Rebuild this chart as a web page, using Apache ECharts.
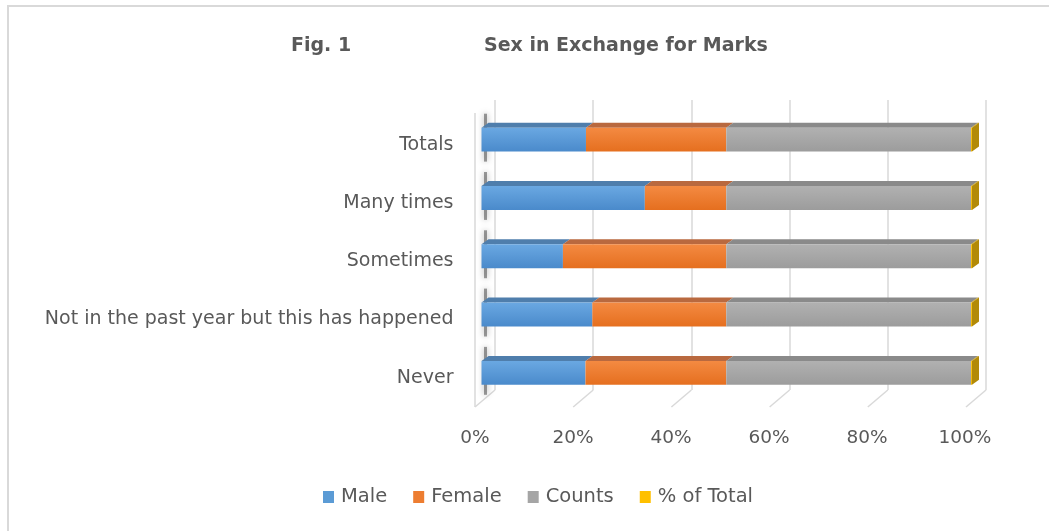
<!DOCTYPE html>
<html>
<head>
<meta charset="utf-8">
<script src="https://cdn.jsdelivr.net/npm/echarts@6/dist/echarts.min.js"></script>
<style>
html,body{margin:0;padding:0;background:#fff;}
#chart{width:1049px;height:531px;}
</style>
</head>
<body>
<div id="chart"></div>
<script>
// ---- data (percent of each row) ----
var categories = ['Never', 'Not in the past year but this has happened', 'Sometimes', 'Many times', 'Totals'];
var male   = [21.2, 22.6, 16.6, 33.3, 21.3];
var female = [28.7, 27.3, 33.3, 16.6, 28.6];
var counts = [49.9, 49.9, 49.9, 49.9, 49.9];
var pctTotal = [0.2, 0.2, 0.2, 0.2, 0.2];
var xTicks = [0, 20, 40, 60, 80, 100];
var seriesNames = ['Male', 'Female', 'Counts', '% of Total'];
var seriesData = [male, female, counts, pctTotal];

// ---- styles ----
var FONT = 'DejaVu Sans';
var TXT = '#595959';
var faceColors = [
  {front: ['#6aa8e2', '#4a8acb'], top: '#4f7eac', legend: '#5b9bd5'},
  {front: ['#f48a42', '#e56f1f'], top: '#b9693f', legend: '#ed7d31'},
  {front: ['#b1b1b1', '#9c9c9c'], top: '#8a8a8a', legend: '#a5a5a5'},
  {front: ['#ffc81a', '#f0b400'], top: '#c99a00', legend: '#ffc000'}
];
var sideColor = '#b28a08';
var DX = 7, DY = 5;

var chart = echarts.init(document.getElementById('chart'), null, {renderer: 'canvas'});

function makeBarSeries(si) {
  return {
    type: 'custom',
    name: seriesNames[si],
    xAxisIndex: 0, yAxisIndex: 0,
    clip: false,
    itemStyle: {color: faceColors[si].legend},
    encode: {x: 0, y: 1},
    data: seriesData[si].map(function (v, i) { return [v, i]; }),
    renderItem: function (params, api) {
      var cat = api.value(1);
      var val = api.value(0);
      var start = 0;
      for (var k = 0; k < si; k++) start += seriesData[k][cat];
      var end = start + val;
      var p0 = api.coord([start, cat]);
      var p1 = api.coord([end, cat]);
      var h = api.size([0, 1])[1] * 0.41;
      var yTop = p0[1] - h / 2, yBot = p0[1] + h / 2;
      var x0 = p0[0], x1 = p1[0];
      var fc = faceColors[si];
      var children = [];
      if (si === 0) {
        // left wall shadow smudge
        children.push({
          type: 'line',
          shape: {x1: x0 + 4, y1: yTop - 14, x2: x0 + 4, y2: yBot + 10},
          style: {stroke: 'rgba(60,60,60,0.5)', lineWidth: 3, shadowBlur: 6, shadowColor: 'rgba(0,0,0,0.7)'},
          z2: 0
        });
      }
      children.push({
        type: 'rect',
        shape: {x: x0, y: yTop, width: Math.max(x1 - x0, 0), height: h},
        style: {fill: new echarts.graphic.LinearGradient(0, 0, 0, 1, [
          {offset: 0, color: fc.front[0]}, {offset: 1, color: fc.front[1]}
        ])},
        z2: 2
      });
      children.push({
        type: 'polygon',
        shape: {points: [[x0, yTop], [x1, yTop], [x1 + DX, yTop - DY], [x0 + DX, yTop - DY]]},
        style: {fill: fc.top},
        z2: 1
      });
      if (si === seriesData.length - 1) {
        children.push({
          type: 'polygon',
          shape: {points: [[x1, yTop], [x1 + DX, yTop - DY], [x1 + DX, yBot - DY], [x1, yBot]]},
          style: {fill: sideColor},
          z2: 1
        });
      }
      return {type: 'group', children: children};
    }
  };
}

var option = {
  backgroundColor: '#ffffff',
  animation: false,
  title: [
    {text: 'Fig. 1', left: 291, top: 37, padding: 0,
     textStyle: {fontFamily: FONT, fontWeight: 'bold', fontSize: 19, color: TXT}},
    {text: 'Sex in Exchange for Marks', left: 484, top: 37, padding: 0,
     textStyle: {fontFamily: FONT, fontWeight: 'bold', fontSize: 19, color: TXT}}
  ],
  graphic: [
    {type: 'rect', shape: {x: 8, y: 6, width: 1200, height: 700},
     style: {fill: 'none', stroke: '#d9d9d9', lineWidth: 2}, silent: true, z: -10}
  ],
  legend: {
    data: seriesNames,
    left: 318, top: 482,
    icon: 'rect', itemWidth: 11, itemHeight: 12, itemGap: 26,
    textStyle: {fontFamily: FONT, fontSize: 19.5, color: TXT, padding: [0, 0, 0, 2]}
  },
  grid: [
    {left: 481.5, width: 490.5, top: 110.5, height: 291.5},
    {left: 495, width: 491, top: 100, height: 290},
    {left: 475, width: 490, top: 100, height: 307},
    {left: 481.5, width: 490.5, top: 115.5, height: 291.5}
  ],
  xAxis: [
    {gridIndex: 0, type: 'value', min: 0, max: 100, interval: 20, show: false},
    {gridIndex: 1, type: 'value', min: 0, max: 100, interval: 20,
     axisLine: {show: false}, axisTick: {show: false}, axisLabel: {show: false},
     splitLine: {show: true, lineStyle: {color: '#d9d9d9', width: 1.5}}},
    {gridIndex: 2, type: 'value', min: 0, max: 100, interval: 20,
     axisLine: {show: false}, axisTick: {show: false}, splitLine: {show: false},
     axisLabel: {formatter: '{value}%', margin: 22, fontFamily: FONT, fontSize: 18.5, color: TXT}},
    {gridIndex: 3, type: 'value', min: 0, max: 100, interval: 20, show: false}
  ],
  yAxis: [
    {gridIndex: 0, type: 'category', data: categories, show: false},
    {gridIndex: 1, type: 'value', min: 0, max: 1, show: false},
    {gridIndex: 2, type: 'value', min: 0, max: 1, show: false},
    {gridIndex: 3, type: 'category', data: categories,
     axisLine: {show: false}, axisTick: {show: false}, splitLine: {show: false},
     axisLabel: {margin: 28, fontFamily: FONT, fontSize: 19, color: TXT}}
  ],
  series: [
    {
      type: 'custom',
      name: 'floor',
      xAxisIndex: 1, yAxisIndex: 1,
      clip: false, silent: true,
      encode: {x: 0},
      data: xTicks.map(function (v) { return [v]; }),
      renderItem: function (params, api) {
        var v = api.value(0);
        var p = api.coord([v, 0]);
        var children = [{
          type: 'line',
          shape: {x1: p[0], y1: p[1], x2: p[0] - 20, y2: p[1] + 17},
          style: {stroke: '#d9d9d9', lineWidth: 1.5}
        }];
        if (v === 0) {
          var top = api.coord([0, 1]);
          children.push({
            type: 'line',
            shape: {x1: p[0] - 20, y1: top[1] + 13, x2: p[0] - 20, y2: p[1] + 17},
            style: {stroke: '#d9d9d9', lineWidth: 1.5}
          });
        }
        return {type: 'group', children: children};
      },
      z: 1
    },
    makeBarSeries(0),
    makeBarSeries(1),
    makeBarSeries(2),
    makeBarSeries(3)
  ]
};
chart.setOption(option);
</script>
</body>
</html>
